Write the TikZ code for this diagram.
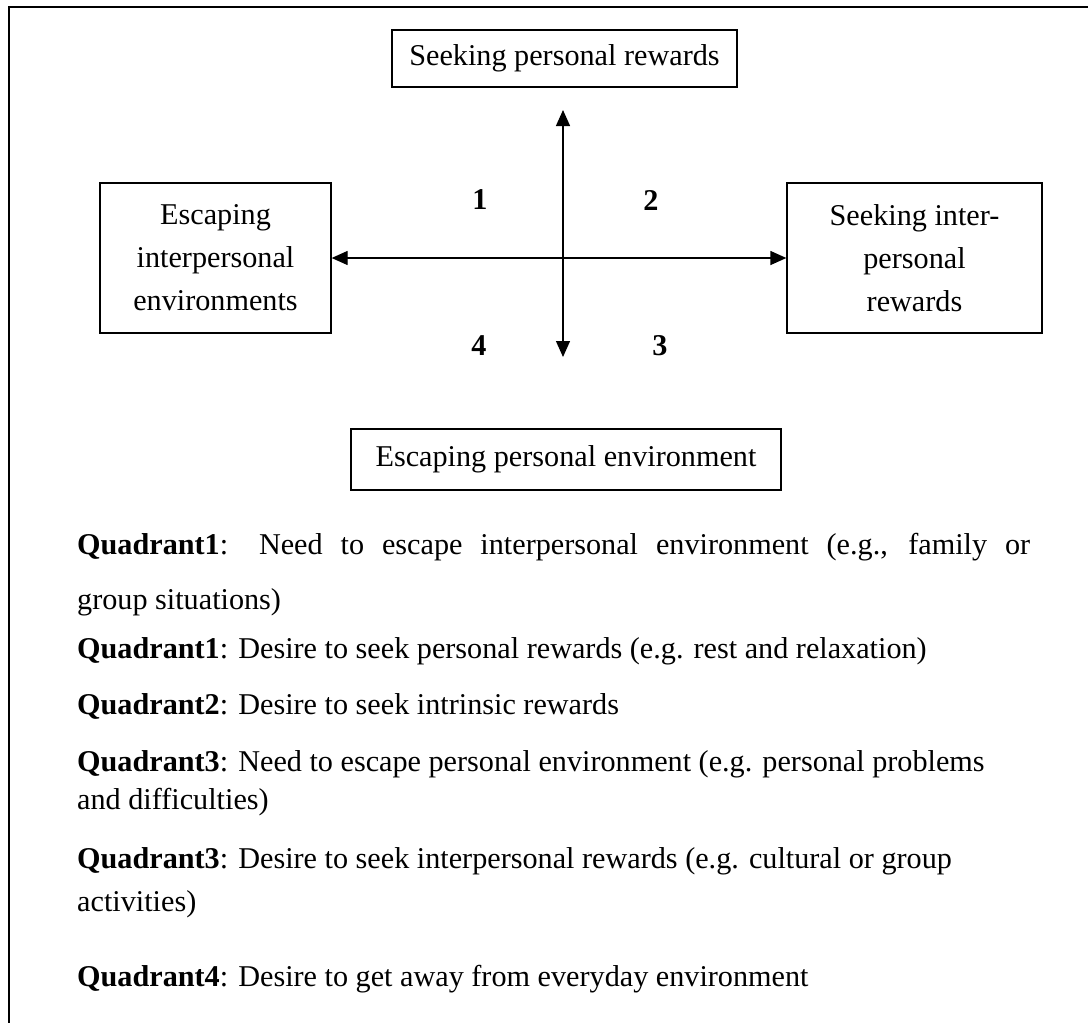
\documentclass[tikz,border=0pt]{standalone}
\usepackage{fontspec}
\setmainfont{Liberation Serif}
\usetikzlibrary{arrows.meta}
\newcommand{\bodyfont}{\fontsize{30.2}{43}\selectfont}
\begin{document}
\begin{tikzpicture}[x=1pt,y=-1pt,
  frame/.style={line width=2.2pt},
  box/.style={draw, line width=1.3pt, inner sep=0pt, align=center, font=\bodyfont},
  num/.style={inner sep=0pt, font=\bodyfont\bfseries},
  axis/.style={line width=1.3pt, {Triangle[length=16pt,width=14pt]}-{Triangle[length=16pt,width=14pt]}},
  txt/.style={anchor=base west, inner sep=0pt, font=\bodyfont}]
\useasboundingbox (0,0) rectangle (1088,1023);
% open frame: top and left edges
\draw[frame] (9,1023) -- (9,7) -- (1088,7);

% the four poles
\node[box, minimum width=345pt, minimum height=57pt] (top) at (564.5,58.5) {Seeking personal rewards};
\node[box, minimum width=231pt, minimum height=150pt] (left) at (215.5,258) {Escaping\\interpersonal\\environments};
\node[box, minimum width=255pt, minimum height=150pt] (right) at (914.5,258) {Seeking inter-\\personal\\rewards};
\node[box, minimum width=430pt, minimum height=61pt] (bottom) at (566,459.5) {Escaping personal environment};

% axes
\coordinate (up) at (563,110);
\coordinate (dn) at (563,357);
\draw[axis] (left.east) -- (right.west);
\draw[axis] (dn) -- (up);

% quadrant numbers
\node[num] (q1) at (480,200) {1};
\node[num] (q2) at (651,200) {2};
\node[num] (q4) at (479,346) {4};
\node[num] (q3) at (660,346) {3};

% legend
\node[txt] (l1) at (77,554) {\makebox[953pt][s]{\textbf{Quadrant1}: Need to escape interpersonal environment (e.g., family or}};
\node[txt] (l2) at (77,609) {group situations)};
\node[txt] (l3) at (77,658) {\textbf{Quadrant1}: Desire to seek personal rewards (e.g. rest and relaxation)};
\node[txt] (l4) at (77,714) {\textbf{Quadrant2}: Desire to seek intrinsic rewards};
\node[txt] (l5) at (77,771) {\textbf{Quadrant3}: Need to escape personal environment (e.g. personal problems};
\node[txt] (l6) at (77,809) {and difficulties)};
\node[txt] (l7) at (77,868) {\textbf{Quadrant3}: Desire to seek interpersonal rewards (e.g. cultural or group};
\node[txt] (l8) at (77,911) {activities)};
\node[txt] (l9) at (77,986) {\textbf{Quadrant4}: Desire to get away from everyday environment};
\end{tikzpicture}
\end{document}
